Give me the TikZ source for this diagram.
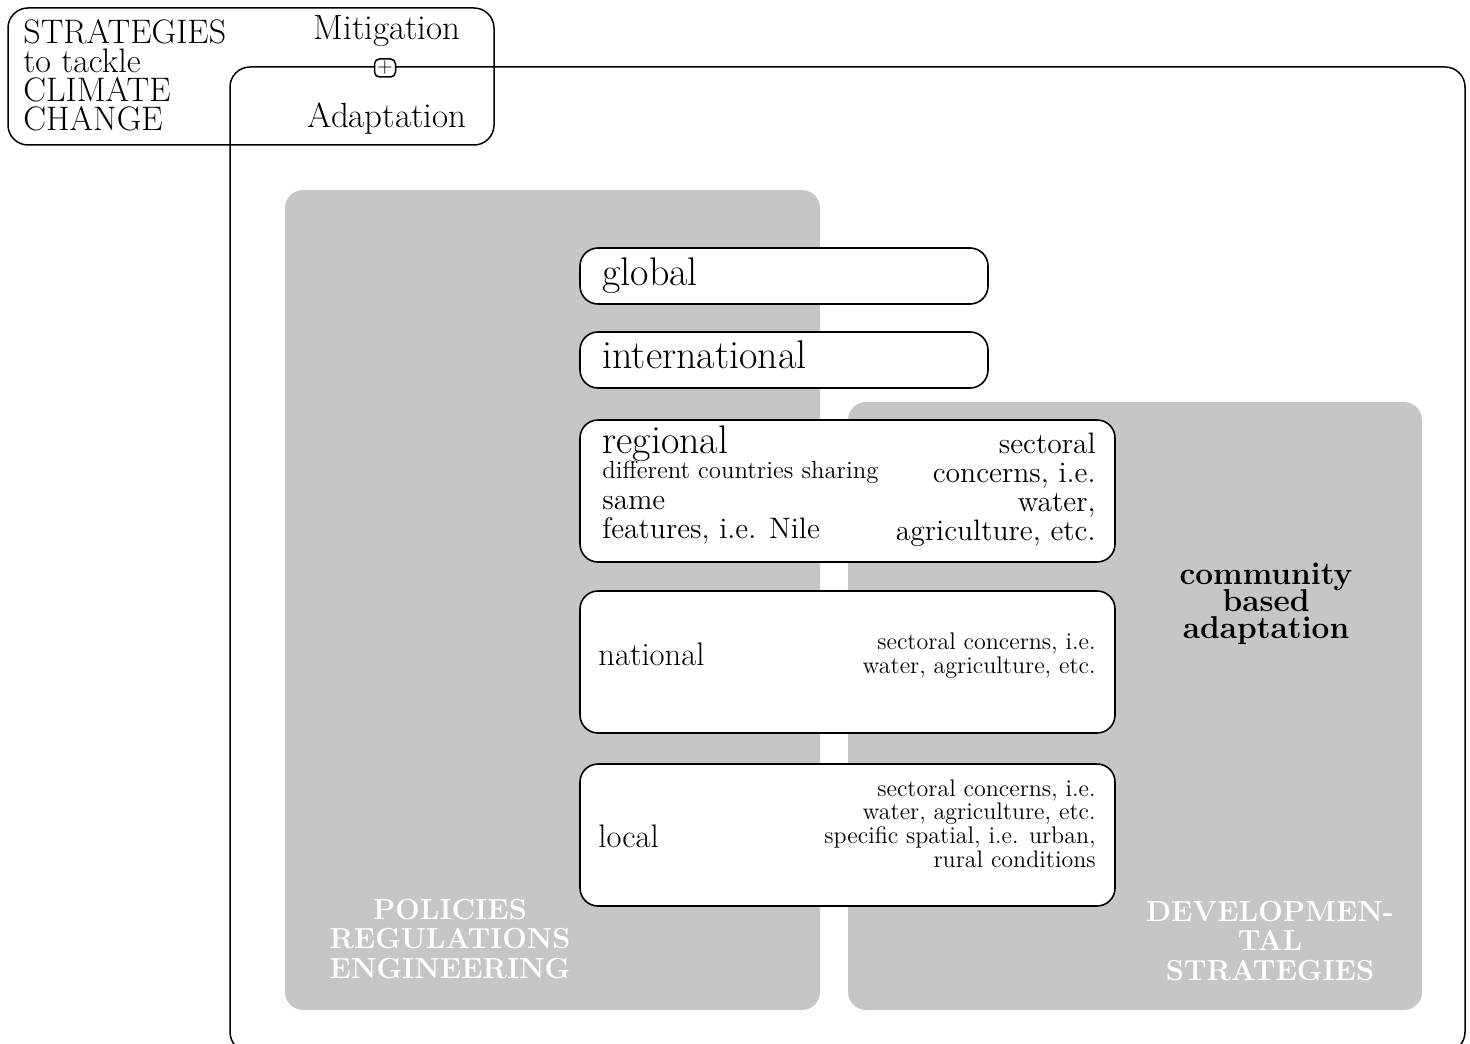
\documentclass[tikz,border=0pt]{standalone}
\usepackage{tikz}
\usetikzlibrary{positioning,calc}

\definecolor{panelgray}{HTML}{C6C6C6}
\tikzset{
  panel/.style={fill=panelgray, rounded corners=9pt},
  levelbox/.style={draw, line width=0.8pt, rounded corners=9pt, fill=white},
  frameline/.style={draw, line width=0.75pt, rounded corners=10pt},
  big/.style={font=\fontsize{20}{20}\selectfont, inner sep=0pt},
  mid/.style={font=\fontsize{14.8}{14.5}\selectfont, inner sep=0pt},
  small/.style={font=\fontsize{12}{11.8}\selectfont, inner sep=0pt},
  paneltext/.style={text=white, font=\bfseries\fontsize{14.5}{14.75}\selectfont, align=center, anchor=base, inner sep=0pt},
}

\begin{document}
\lineskiplimit=-20pt
\begin{tikzpicture}[x=0.5pt,y=-0.5pt]
\clip (0,0) rectangle (1470,1043);

% grey panels
\fill[panel] (285,190) rectangle (820,1010);
\fill[panel] (848,402) rectangle (1422,1010);
\node[paneltext] (policies) at (450,978) {POLICIES\\REGULATIONS\\ENGINEERING};
\node[paneltext] (devel) at (1270,980) {DEVELOPMEN-\\TAL\\STRATEGIES};
\node[anchor=base, align=center, inner sep=0pt, font=\bfseries\fontsize{15.8}{13.3}\selectfont] (cba) at (1266,638) {community\\based\\adaptation};

% outer frame and title box
\draw[frameline] (230,1052) rectangle (1465,67);
\draw[frameline] (8,8) rectangle (494,145);
\node[anchor=base west, align=left, inner sep=0pt, font=\fontsize{17}{14.6}\selectfont] (title) at (23,131) {STRATEGIES\\to tackle\\CLIMATE\\CHANGE};
\node[anchor=base, inner sep=0pt, font=\fontsize{17.5}{16}\selectfont] (mitig) at (387,40) {Mitigation};
\node[anchor=base, inner sep=0pt, font=\fontsize{17.5}{16}\selectfont] (adapt) at (387,128) {Adaptation};
\node[draw, line width=0.75pt, fill=white, rounded corners=2.5pt, inner sep=0pt, minimum width=10.5pt, minimum height=9pt, font=\normalsize] (plus) at (385,68) {$+$};

% levels
\draw[levelbox] (580,248) rectangle (988,304);
\node[big, anchor=base west] (global) at (602,285) {global};
\draw[levelbox] (580,332) rectangle (988,388);
\node[big, anchor=base west] (intl) at (602,368) {international};

\draw[levelbox] (580,420) rectangle (1115,562);
\node[big, anchor=base west] (regional) at (602,453) {regional};
\node[anchor=base west, inner sep=0pt, font=\fontsize{12.4}{12}\selectfont] (countries) at (602,478) {different countries sharing};
\node[mid, anchor=base west, align=left] (nile) at (602,538) {same\\features, i.e. Nile};
\node[mid, anchor=base east, align=right] (regsect) at (1096,540) {sectoral\\concerns, i.e.\\water,\\agriculture, etc.};

\draw[levelbox] (580,591) rectangle (1115,733);
\node[anchor=base west, inner sep=0pt, font=\fontsize{16.3}{16}\selectfont] (national) at (598,665) {national};
\node[small, anchor=base east, align=right] (natsect) at (1096,673) {sectoral concerns, i.e.\\water, agriculture, etc.};

\draw[levelbox] (580,764) rectangle (1115,906);
\node[anchor=base west, inner sep=0pt, font=\fontsize{16.3}{16}\selectfont] (local) at (598,847) {local};
\node[small, anchor=base east, align=right] (locsect) at (1096,867) {sectoral concerns, i.e.\\water, agriculture, etc.\\specific spatial, i.e. urban,\\rural conditions};
\end{tikzpicture}
\end{document}
